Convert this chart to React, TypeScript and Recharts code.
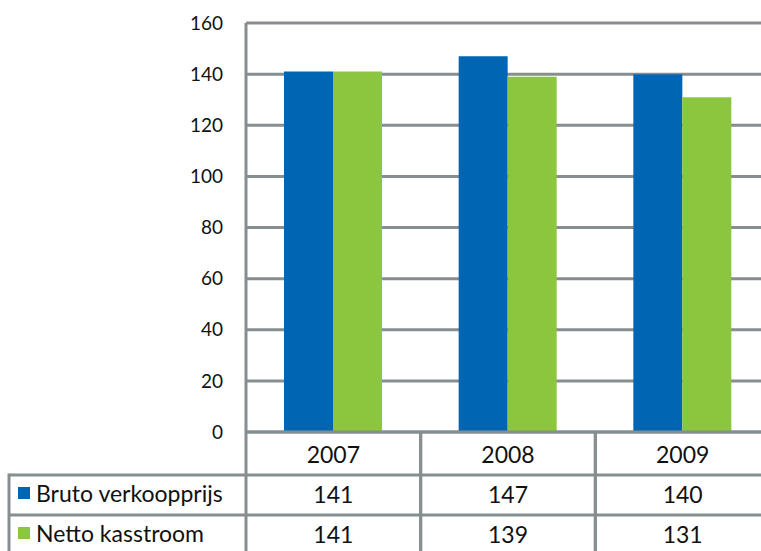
import { Bar, BarChart, CartesianGrid, XAxis, YAxis } from "recharts";

const categories = ["2007", "2008", "2009"];
const brutoVerkoopprijs = [141, 147, 140];
const nettoKasstroom = [141, 139, 131];
const seriesNames = ["Bruto verkoopprijs", "Netto kasstroom"];
const yTicks = [0, 20, 40, 60, 80, 100, 120, 140, 160];

const BLUE = "#0066B3";
const GREEN = "#8CC63F";
const GRID = "#868E8F";
const FONT = "Lato, 'Noto Sans', sans-serif";

const CHART_W = 770;
const CHART_H = 551;
const PLOT_LEFT = 246;

const data = categories.map((year, i) => ({
  year,
  bruto: brutoVerkoopprijs[i],
  netto: nettoKasstroom[i],
}));

const rows = [
  { name: seriesNames[0], color: BLUE, values: brutoVerkoopprijs },
  { name: seriesNames[1], color: GREEN, values: nettoKasstroom },
];

// x-axis tick that draws one column of the data table
function TableTick(props: any) {
  const { x, y, payload, index } = props;
  const half =
    payload && payload.offset ? payload.offset : (CHART_W - PLOT_LEFT) / categories.length / 2;
  const left = x - half;
  const right = x + half;
  const bottom = CHART_H;
  const row1 = y + 43;
  const row2 = y + 83;
  const txt = { fontFamily: FONT, fontSize: 23, fill: "#111" };
  return (
    <g>
      <line x1={left} y1={y} x2={left} y2={bottom} stroke={GRID} strokeWidth={3} />
      <line x1={right} y1={y} x2={right} y2={bottom} stroke={GRID} strokeWidth={3} />
      <line x1={left} y1={row1} x2={right} y2={row1} stroke={GRID} strokeWidth={3} />
      <line x1={left} y1={row2} x2={right} y2={row2} stroke={GRID} strokeWidth={3} />
      <text x={x} y={y + 31} textAnchor="middle" {...txt}>
        {payload.value}
      </text>
      {rows.map((r, ri) => (
        <text key={r.name} x={x} y={y + 71 + ri * 40} textAnchor="middle" {...txt}>
          {r.values[index]}
        </text>
      ))}
      {index === 0 && (
        <g>
          <line x1={9} y1={row1} x2={left} y2={row1} stroke={GRID} strokeWidth={3} />
          <line x1={9} y1={row2} x2={left} y2={row2} stroke={GRID} strokeWidth={3} />
          <line x1={9} y1={row1 - 1.5} x2={9} y2={bottom} stroke={GRID} strokeWidth={3} />
          {rows.map((r, ri) => (
            <g key={r.name}>
              <rect x={18} y={row1 + 12 + ri * 40} width={12} height={12} fill={r.color} />
              <text x={36} y={y + 70 + ri * 40} textAnchor="start" {...txt}>
                {r.name}
              </text>
            </g>
          ))}
        </g>
      )}
    </g>
  );
}

export default function App() {
  return (
    <div
      style={{
        position: "absolute",
        left: 0,
        top: 0,
        width: 761,
        height: 551,
        overflow: "hidden",
        background: "#fff",
      }}
    >
      <BarChart
        width={CHART_W}
        height={CHART_H}
        data={data}
        margin={{ top: 23, right: 0, bottom: 0, left: 0 }}
        barGap={0}
        barCategoryGap={38}
      >
        <CartesianGrid vertical={false} stroke={GRID} strokeWidth={3} />
        <YAxis
          width={PLOT_LEFT}
          domain={[0, 160]}
          ticks={yTicks}
          interval={0}
          tickLine={false}
          tickSize={0}
          tickMargin={23}
          axisLine={{ stroke: GRID, strokeWidth: 3 }}
          tick={{ fontFamily: FONT, fontSize: 19, fill: "#111" }}
        />
        <XAxis
          dataKey="year"
          height={CHART_H - 432}
          interval={0}
          tickLine={false}
          tickSize={0}
          tickMargin={0}
          axisLine={{ stroke: GRID, strokeWidth: 3 }}
          tick={<TableTick />}
        />
        <Bar dataKey="bruto" name={seriesNames[0]} fill={BLUE} isAnimationActive={false} />
        <Bar dataKey="netto" name={seriesNames[1]} fill={GREEN} isAnimationActive={false} />
      </BarChart>
    </div>
  );
}
